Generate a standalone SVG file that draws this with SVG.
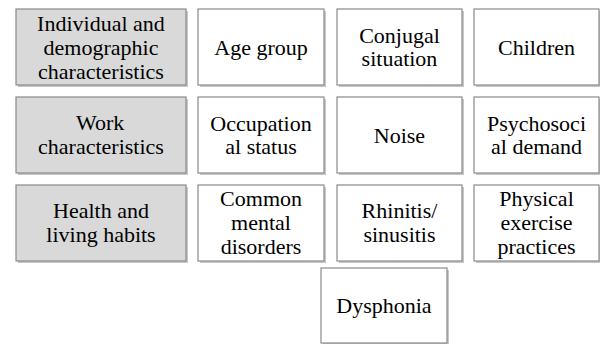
<svg xmlns="http://www.w3.org/2000/svg" width="600" height="344" viewBox="0 0 600 344">
<defs>
<style>
.sh{fill:#000;opacity:0.22}
.cat{fill:#d9d9d9;stroke:#8a8a8a;stroke-width:1.2}
.box{fill:#ffffff;stroke:#8a8a8a;stroke-width:1.2}
</style>
</defs>
<rect x="0" y="0" width="600" height="344" fill="#fff"/>
<g id="shadows">
<rect class="sh" x="18" y="11" width="170" height="76"/><rect class="sh" x="18" y="99" width="170" height="76"/><rect class="sh" x="18" y="187" width="170" height="76"/>
<rect class="sh" x="200" y="11" width="126" height="76"/><rect class="sh" x="339" y="11" width="125" height="76"/><rect class="sh" x="476" y="11" width="125" height="76"/>
<rect class="sh" x="200" y="99" width="126" height="76"/><rect class="sh" x="339" y="99" width="125" height="76"/><rect class="sh" x="476" y="99" width="125" height="76"/>
<rect class="sh" x="200" y="187" width="126" height="76"/><rect class="sh" x="339" y="187" width="125" height="76"/><rect class="sh" x="476" y="187" width="125" height="76"/>
<rect class="sh" x="323" y="270" width="126" height="75"/>
</g>
<g id="individual"><rect class="cat" x="16" y="9" width="170" height="76"/><text x="37.1" y="31" font-family="Liberation Serif" font-size="22">Individual and</text><text x="43.6" y="55" font-family="Liberation Serif" font-size="22">demographic</text><text x="38.1" y="79" font-family="Liberation Serif" font-size="22">characteristics</text></g>
<g id="work"><rect class="cat" x="16" y="97" width="170" height="76"/><text x="75.9" y="130" font-family="Liberation Serif" font-size="22">Work</text><text x="38.1" y="154" font-family="Liberation Serif" font-size="22">characteristics</text></g>
<g id="health"><rect class="cat" x="16" y="185" width="170" height="76"/><text x="53" y="218" font-family="Liberation Serif" font-size="22">Health and</text><text x="46.3" y="242" font-family="Liberation Serif" font-size="22">living habits</text></g>
<g id="age"><rect class="box" x="198" y="9" width="126" height="76"/><text x="214.3" y="55" font-family="Liberation Serif" font-size="22">Age group</text></g>
<g id="conjugal"><rect class="box" x="337" y="9" width="125" height="76"/><text x="359.2" y="43" font-family="Liberation Serif" font-size="22">Conjugal</text><text x="361.6" y="66" font-family="Liberation Serif" font-size="22">situation</text></g>
<g id="children"><rect class="box" x="474" y="9" width="125" height="76"/><text x="498" y="55" font-family="Liberation Serif" font-size="22">Children</text></g>
<g id="occupational"><rect class="box" x="198" y="97" width="126" height="76"/><text x="210.3" y="131" font-family="Liberation Serif" font-size="22">Occupation</text><text x="225.3" y="154" font-family="Liberation Serif" font-size="22">al status</text></g>
<g id="noise"><rect class="box" x="337" y="97" width="125" height="76"/><text x="373.8" y="143" font-family="Liberation Serif" font-size="22">Noise</text></g>
<g id="psychosocial"><rect class="box" x="474" y="97" width="125" height="76"/><text x="487" y="131" font-family="Liberation Serif" font-size="22">Psychosoci</text><text x="491" y="154" font-family="Liberation Serif" font-size="22">al demand</text></g>
<g id="mental"><rect class="box" x="198" y="185" width="126" height="76"/><text x="220.1" y="206" font-family="Liberation Serif" font-size="22">Common</text><text x="231.1" y="230" font-family="Liberation Serif" font-size="22">mental</text><text x="220.7" y="254" font-family="Liberation Serif" font-size="22">disorders</text></g>
<g id="rhinitis"><rect class="box" x="337" y="185" width="125" height="76"/><text x="361.6" y="218" font-family="Liberation Serif" font-size="22">Rhinitis/</text><text x="363.4" y="242" font-family="Liberation Serif" font-size="22">sinusitis</text></g>
<g id="physical"><rect class="box" x="474" y="185" width="125" height="76"/><text x="499.2" y="206" font-family="Liberation Serif" font-size="22">Physical</text><text x="500.5" y="230" font-family="Liberation Serif" font-size="22">exercise</text><text x="497.4" y="254" font-family="Liberation Serif" font-size="22">practices</text></g>
<g id="dysphonia"><rect class="box" x="321" y="268" width="126" height="75"/><text x="336.3" y="313" font-family="Liberation Serif" font-size="22">Dysphonia</text></g>
<g id="connectors"></g>
</svg>
